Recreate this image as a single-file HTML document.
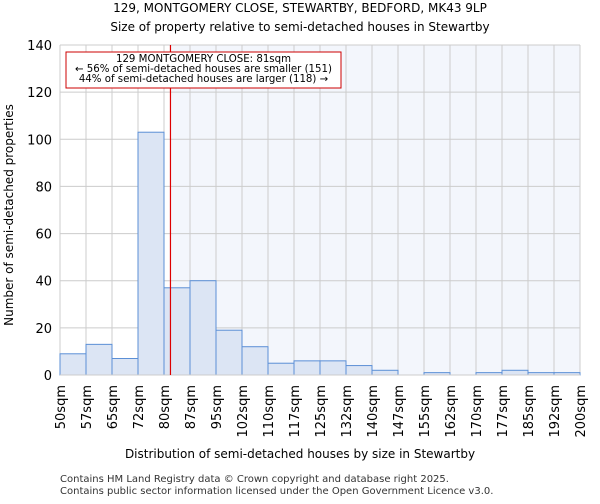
<!DOCTYPE html>
<html><head><meta charset="utf-8"><style>
body{margin:0;background:#fff;font-family:"DejaVu Sans","Liberation Sans",sans-serif;}
</style></head><body>
<svg width="600" height="500" xmlns="http://www.w3.org/2000/svg" font-family="DejaVu Sans, Liberation Sans, sans-serif">
<text x="300" y="12" text-anchor="middle" font-size="12">129, MONTGOMERY CLOSE, STEWARTBY, BEDFORD, MK43 9LP</text>
<text x="300" y="31" text-anchor="middle" font-size="12">Size of property relative to semi-detached houses in Stewartby</text>
<g id="plot"></g>
<text x="300" y="458" text-anchor="middle" font-size="12">Distribution of semi-detached houses by size in Stewartby</text>
<text transform="translate(13,215) rotate(-90)" text-anchor="middle" font-size="12">Number of semi-detached properties</text>
<text x="60" y="482" font-size="10" fill="#333">Contains HM Land Registry data © Crown copyright and database right 2025.</text>
<text x="60" y="494" font-size="10" fill="#333">Contains public sector information licensed under the Open Government Licence v3.0.</text>
</svg>
<script>
const categories=["50sqm","57sqm","65sqm","72sqm","80sqm","87sqm","95sqm","102sqm","110sqm","117sqm","125sqm","132sqm","140sqm","147sqm","155sqm","162sqm","170sqm","177sqm","185sqm","192sqm","200sqm"];
const counts=[9,13,7,103,37,40,19,12,5,6,6,4,2,0,1,0,1,2,1,1];
const yTicks=[0,20,40,60,80,100,120,140];
const markerValue=81;
const binStart=50, binWidth=7.5;
const X0=60,X1=580,Y0=375,Y1=45,YMAX=140;
const NS="http://www.w3.org/2000/svg";
const g=document.getElementById('plot');
const xb=i=>X0+i*(X1-X0)/counts.length;
const xv=v=>X0+(v-binStart)/binWidth*(X1-X0)/counts.length;
const y=v=>Y0-v/YMAX*(Y0-Y1);
function mk(t,a){const e=document.createElementNS(NS,t);for(const k in a)e.setAttribute(k,a[k]);g.appendChild(e);return e;}
const mx=xv(markerValue)+3;
let e=mk('rect',{x:mx,y:Y1,width:X1-mx,height:Y0-Y1,fill:'#f3f6fc'});


yTicks.forEach(t=>{
 let l=mk('line',{x1:X0,x2:X1,y1:y(t),y2:y(t),stroke:'#cccccc'});
 
 
 let tx=mk('text',{x:X0-8,y:y(t)+5,'text-anchor':'end','font-size':13});
 tx.textContent=t;
 
 
});
categories.forEach((c,i)=>{
 let l=mk('line',{x1:xb(i),x2:xb(i),y1:Y1,y2:Y0,stroke:'#cccccc'});
 
 
 let tx=mk('text',{transform:`translate(${xb(i)+5},${Y0+10}) rotate(-90)`,'text-anchor':'end','font-size':13});
 tx.textContent=c;
 
 
});
counts.forEach((v,i)=>{
 let r=mk('rect',{x:xb(i),y:y(v),width:xb(i+1)-xb(i),height:Y0-y(v),fill:'#dce5f4',stroke:'#5b8fd6','stroke-width':1});
 
 
});
let ax=mk('line',{x1:X0,x2:X1,y1:Y0,y2:Y0,stroke:'#cccccc'});


let ml=mk('line',{x1:mx,x2:mx,y1:Y1,y2:Y0,stroke:'#dd0000','stroke-width':1.2});


let box=mk('rect',{x:66,y:52,width:275,height:36,fill:'#fff',stroke:'#cc0000'});


["129 MONTGOMERY CLOSE: 81sqm","← 56% of semi-detached houses are smaller (151)","44% of semi-detached houses are larger (118) →"].forEach((s,i)=>{
 let t=mk('text',{x:203.5,y:62+i*10,'text-anchor':'middle','font-size':10.2});
 t.textContent=s;
 
 
});
</script>
</body></html>
